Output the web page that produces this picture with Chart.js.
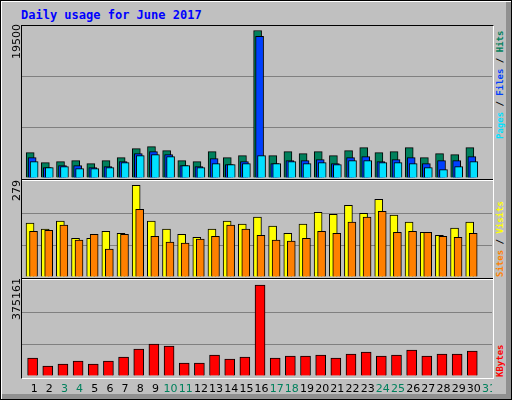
<!DOCTYPE html>
<html>
<head>
<meta charset="utf-8">
<script src="https://cdn.jsdelivr.net/npm/chart.js@4/dist/chart.umd.min.js"></script>
<style>
  body { margin: 0; background: #fff; }
  #wrap { position: absolute; left: 0; top: 0; width: 510px; height: 398px; background: #c0c0c0;
    border: 1px solid #000; box-shadow: inset 1px 1px 0 #fff, inset -5px -5px 0 #909090; overflow: hidden; }
  #frame { position: absolute; left: 20px; top: 24px; width: 471px; height: 352px;
    border-left: 1px solid #000; border-top: 1px solid #000; border-right: 1px solid #fff; border-bottom: 1px solid #fff; }
  .sep { position: absolute; left: 21px; width: 471px; height: 1px; background: #fff; }
  .sep2 { position: absolute; left: 21px; width: 471px; height: 1px; background: #000; }
  .pane { position: absolute; left: 21px; width: 470px; }
  .title { position: absolute; left: 20px; top: 7px; font: bold 12px "DejaVu Sans Mono", monospace; color: #0000ff; }
  .rl, .ll { position: absolute; transform-origin: 0 0; transform: rotate(-90deg); white-space: nowrap; }
  .rl { font: bold 9px "DejaVu Sans Mono", monospace; }
  .ll { font: 11px "DejaVu Sans", sans-serif; color: #000; }
</style>
</head>
<body>
<div id="wrap">
  <div class="title">Daily usage for June 2017</div>
  <div id="frame"></div>
  <div class="sep2" style="top:178px"></div><div class="sep" style="top:179px"></div>
  <div class="sep2" style="top:277px"></div><div class="sep" style="top:278px"></div>
  <div class="pane" style="top:25px;height:152px"><canvas id="c1"></canvas></div>
  <div class="pane" style="top:181px;height:95px"><canvas id="c2"></canvas></div>
  <div class="pane" style="top:280px;height:115px"><canvas id="c3"></canvas></div>
  <div class="ll" style="left:9px;top:58px">19500</div>
  <div class="ll" style="left:9px;top:200px">279</div>
  <div class="ll" style="left:9px;top:319px">375161</div>
  <div class="rl" style="left:494px;top:138px"><span style="color:#00e0ff">Pages</span><span style="color:#000"> / </span><span style="color:#0040ff">Files</span><span style="color:#000"> / </span><span style="color:#00805c">Hits</span></div>
  <div class="rl" style="left:494px;top:276px"><span style="color:#ff8000">Sites</span><span style="color:#000"> / </span><span style="color:#ffff00">Visits</span></div>
  <div class="rl" style="left:494px;top:376px"><span style="color:#ff0000">KBytes</span></div>
</div>
<script>
var days = [];
for (var d = 1; d <= 30; d++) days.push(d);
var weekendDays = [3, 4, 10, 11, 17, 18, 24, 25, 31];

var hits = [3360, 2030, 2165, 2300, 1900, 2300, 2695, 3890, 4150, 3620, 2300, 2165, 3490, 2695, 2960,
  19500, 2960, 3490, 3225, 3490, 2960, 3620, 4020, 3360, 3490, 4020, 2695, 3225, 3090, 4020];
var files = [2695, 1370, 1635, 1635, 1370, 1500, 2165, 3225, 3490, 3090, 1635, 1500, 2560, 1765, 2165,
  18730, 1900, 2300, 2300, 2430, 1900, 2695, 2825, 2165, 2430, 2695, 1900, 2300, 2300, 2825];
var pages = [2165, 1370, 1500, 1235, 1235, 1370, 2030, 2960, 3090, 2825, 1635, 1370, 1900, 1765, 1900,
  2960, 1900, 2165, 1900, 2030, 1765, 2300, 2300, 2030, 2030, 1900, 1370, 1105, 1500, 2165];
var visits = [164, 146, 170, 118, 118, 139, 133, 279, 170, 146, 130, 121, 146, 170, 161,
  182, 155, 133, 161, 197, 191, 218, 194, 236, 188, 167, 136, 127, 149, 167];
var sites = [139, 142, 158, 112, 130, 85, 130, 206, 124, 106, 103, 115, 124, 158, 146,
  127, 112, 109, 118, 139, 133, 167, 182, 200, 136, 139, 136, 124, 121, 133];
var kbytes = [74200, 41200, 49500, 61800, 49500, 61800, 78300, 111300, 131900, 123700, 53600, 53600, 86600, 70100, 78300,
  375161, 74200, 82400, 82400, 86600, 74200, 90700, 98900, 82400, 86600, 107200, 82400, 90700, 90700, 103000];

var X_MIN = 0.3, X_MAX = 31.3;

function pts(arr, off) {
  return arr.map(function (v, i) { return { x: days[i] + off, y: v }; });
}

function ds(label, arr, off, color, order, w) {
  return { label: label, data: pts(arr, off), backgroundColor: color, borderColor: '#000',
    borderWidth: 1, borderSkipped: 'bottom', barThickness: w, grouped: false, order: order };
}

function opts(max, bottomPad) {
  return {
    responsive: true, maintainAspectRatio: false, animation: false,
    layout: { padding: { left: 0, right: 0, top: 0, bottom: bottomPad || 0 } },
    plugins: { legend: { display: false }, tooltip: { enabled: false } },
    scales: {
      x: { type: 'linear', min: X_MIN, max: X_MAX, offset: false, display: false },
      y: { min: 0, max: max, ticks: { display: false, stepSize: max / 3 },
        border: { display: false },
        grid: { drawTicks: false, color: function (c) {
          return (c.index === 0 || c.index === 3) ? 'rgba(0,0,0,0)' : '#808080'; } } }
    }
  };
}

new Chart(document.getElementById('c1'), {
  type: 'bar',
  data: { datasets: [
    ds('Pages', pages, 0.1, '#00e0ff', 0, 8),
    ds('Files', files, -0.03, '#0040ff', 1, 8),
    ds('Hits', hits, -0.16, '#00805c', 2, 8)
  ] },
  options: opts(20095)
});

new Chart(document.getElementById('c2'), {
  type: 'bar',
  data: { datasets: [
    ds('Sites', sites, 0.06, '#ff8000', 0, 8),
    ds('Visits', visits, -0.17, '#ffff00', 1, 8)
  ] },
  options: opts(289)
});

var dayLabels = {
  id: 'dayLabels',
  afterDraw: function (chart) {
    var ctx = chart.ctx, xs = chart.scales.x;
    ctx.save();
    ctx.font = '11px "DejaVu Sans", sans-serif';
    ctx.textAlign = 'center';
    ctx.textBaseline = 'middle';
    for (var d = 1; d <= 31; d++) {
      ctx.fillStyle = weekendDays.indexOf(d) >= 0 ? '#00805c' : '#000';
      ctx.fillText(String(d), xs.getPixelForValue(d + 0.1), chart.chartArea.bottom + 13);
    }
    ctx.restore();
  }
};

new Chart(document.getElementById('c3'), {
  type: 'bar',
  data: { datasets: [ ds('KBytes', kbytes, 0, '#ff0000', 0, 10) ] },
  options: opts(391650, 20),
  plugins: [dayLabels]
});
</script>
</body>
</html>
